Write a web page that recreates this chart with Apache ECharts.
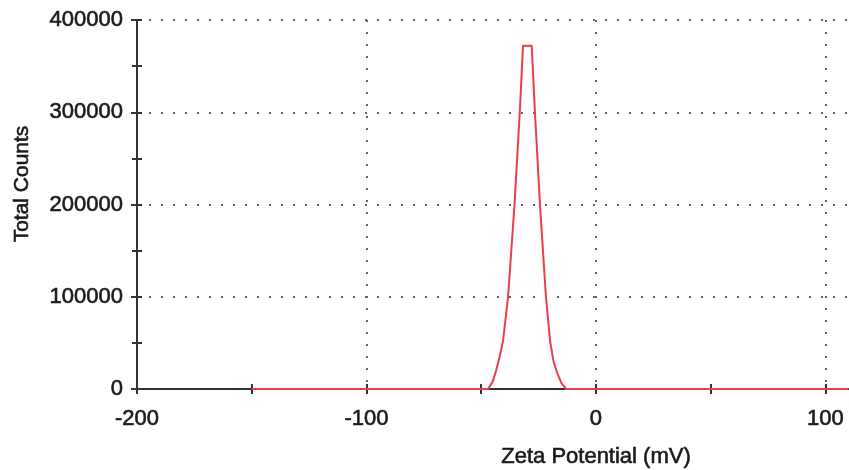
<!DOCTYPE html>
<html>
<head>
<meta charset="utf-8">
<script src="https://cdn.jsdelivr.net/npm/echarts@6/dist/echarts.min.js"></script>
<style>
  html, body { margin: 0; padding: 0; background: #fff; }
  #chart { width: 849px; height: 470px; }
</style>
</head>
<body>
<div id="chart"></div>
<script>
// zeta potential (mV) and total counts
const zeta = [-150, -47, -45, -43.5, -42, -40.5, -38.3, -35.5, -33.2, -31.8, -28, -26.6, -24.4, -21.8, -20, -18.5, -17, -15, -13, 110];
const counts = [0, 0, 8000, 20000, 35000, 52000, 100000, 200000, 300000, 372000, 372000, 300000, 200000, 100000, 52000, 30000, 18000, 6000, 0, 0];

const xLabels = [-200, -100, 0, 100];
const yLabels = [0, 100000, 200000, 300000, 400000];

const chart = echarts.init(document.getElementById('chart'));

const font = 'Liberation Sans, Arial, sans-serif';
const textColor = '#1a1a1a';
const dotted = { color: '#666', width: 2, type: [2, 10] };
const tickStyle = { color: '#333', width: 2 };

// grid box: 137..853 wide, 20..389 tall
const gridW = 716;
const gridH = 369;

const option = {
  animation: false,
  grid: { left: 137, right: -4, top: 20, bottom: 81, containLabel: false, outerBoundsMode: 'none' },
  xAxis: [
    {
      type: 'value',
      position: 'bottom',
      min: -200,
      max: 112,
      interval: 100,
      axisLine: { show: true, onZero: false, lineStyle: { color: '#333', width: 2 } },
      axisTick: { show: true, inside: true, length: 5, lineStyle: tickStyle },
      minorTick: { show: true, splitNumber: 2, length: 5, lineStyle: tickStyle },
      splitLine: { show: true, lineStyle: dotted },
      axisLabel: {
        margin: 19,
        fontSize: 22,
        fontFamily: font,
        color: textColor,
        textBorderColor: textColor,
        textBorderWidth: 0.6,
        formatter: (v) => (xLabels.includes(v) ? String(v) : '')
      }
    },
    {
      // second copy pulled down onto the bottom axis so ticks cross it
      type: 'value',
      position: 'top',
      offset: -gridH,
      min: -200,
      max: 112,
      interval: 50,
      axisLine: { show: false, onZero: false },
      axisTick: { show: true, inside: true, length: 5, lineStyle: tickStyle },
      splitLine: { show: false },
      axisLabel: { show: false }
    }
  ],
  yAxis: [
    {
      type: 'value',
      position: 'left',
      min: 0,
      max: 400000,
      interval: 100000,
      axisLine: { show: true, onZero: false, lineStyle: { color: '#333', width: 2 } },
      axisTick: { show: true, length: 6, lineStyle: tickStyle },
      minorTick: { show: true, splitNumber: 2, length: 5, lineStyle: tickStyle },
      splitLine: { show: true, lineStyle: dotted },
      axisLabel: {
        margin: 14,
        fontSize: 22,
        fontFamily: font,
        color: textColor,
        textBorderColor: textColor,
        textBorderWidth: 0.6,
        formatter: (v) => (yLabels.includes(v) ? String(v) : '')
      }
    },
    {
      type: 'value',
      position: 'right',
      offset: -gridW,
      min: 0,
      max: 400000,
      interval: 50000,
      axisLine: { show: false, onZero: false },
      axisTick: { show: true, inside: false, length: 5, lineStyle: tickStyle },
      splitLine: { show: false },
      axisLabel: { show: false }
    }
  ],
  graphic: [
    {
      type: 'text',
      x: 596,
      y: 457,
      style: {
        text: 'Zeta Potential (mV)',
        font: '22px ' + font,
        fill: textColor,
        stroke: textColor,
        lineWidth: 0.6,
        textAlign: 'center',
        textVerticalAlign: 'middle'
      }
    },
    {
      type: 'text',
      x: 22,
      y: 184,
      rotation: Math.PI / 2,
      style: {
        text: 'Total Counts',
        font: '21px ' + font,
        fill: textColor,
        stroke: textColor,
        lineWidth: 0.6,
        textAlign: 'center',
        textVerticalAlign: 'middle'
      }
    }
  ],
  series: [
    {
      type: 'line',
      xAxisIndex: 0,
      yAxisIndex: 0,
      data: zeta.map((x, i) => [x, counts[i]]),
      showSymbol: false,
      lineStyle: { color: '#e8404a', width: 2 },
      z: 5
    }
  ]
};

chart.setOption(option);
</script>
</body>
</html>
